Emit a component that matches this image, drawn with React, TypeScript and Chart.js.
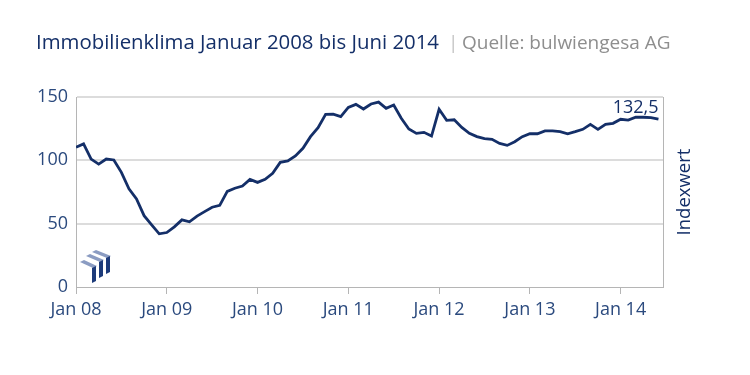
import React, { useEffect, useRef } from "react";
import { Chart, registerables } from "chart.js";

Chart.register(...registerables);

// ---------- data ----------
const titleMain = "Immobilienklima Januar 2008 bis Juni 2014";
const titleSeparator = "|";
const titleSource = "Quelle: bulwiengesa AG";
const axisTitle = "Indexwert";
const lastValueLabel = "132,5";

const xTickLabels = ["Jan 08", "Jan 09", "Jan 10", "Jan 11", "Jan 12", "Jan 13", "Jan 14"];
const yTickValues = [0, 50, 100, 150];

// monthly values, Jan 2008 .. Jun 2014
const indexValues = [
  110.3, 113, 101, 97, 101, 100.3, 90.5, 77.5, 69.5, 56.3, 49, 42,
  43, 47.5, 53, 51.5, 56, 59.5, 63, 64.5, 75.5, 78, 79.7, 85,
  82.6, 85, 89.7, 98.4, 99.5, 103.5, 109.5, 118.7, 125.8, 136.3, 136.5, 134.5,
  141.8, 144.2, 140.5, 144.5, 146, 141, 143.7, 133.2, 124.7, 121.3, 122.1, 119.2,
  140.3, 131.6, 132, 126, 121.3, 118.7, 117.1, 116.6, 113.4, 111.8, 114.7, 118.7,
  121, 121, 123.2, 123.2, 122.6, 121, 122.6, 124.5, 128.4, 124.5, 128.4, 129.2,
  132.4, 131.8, 134, 134, 133.7, 132.5,
];

const FONT = "'Open Sans', sans-serif";
const NAVY = "#142f68";
const TICK_COLOR = "#2b4a7e";

const decorPlugin = {
  id: "decor",
  afterDraw(chart: any) {
    const { ctx, chartArea } = chart;
    ctx.save();
    // right frame line
    ctx.strokeStyle = "#b5b5b5";
    ctx.lineWidth = 1;
    ctx.beginPath();
    ctx.moveTo(Math.round(chartArea.right) + 0.5, chartArea.top);
    ctx.lineTo(Math.round(chartArea.right) + 0.5, chartArea.bottom);
    ctx.stroke();

    // title
    ctx.textBaseline = "alphabetic";
    ctx.font = `20.4px ${FONT}`;
    ctx.fillStyle = NAVY;
    ctx.textAlign = "left";
    ctx.fillText(titleMain, 36, 49);
    const w = ctx.measureText(titleMain).width;
    ctx.font = `19px ${FONT}`;
    ctx.fillStyle = "#c4c4c4";
    ctx.fillText(titleSeparator, 36 + w + 9, 49);
    ctx.fillStyle = "#8e8e8e";
    ctx.fillText(titleSource, 36 + w + 23, 49);

    // last value label
    const meta = chart.getDatasetMeta(0);
    const last = meta.data[meta.data.length - 1];
    ctx.font = `18px ${FONT}`;
    ctx.fillStyle = NAVY;
    ctx.textAlign = "right";
    ctx.fillText(lastValueLabel, last.x, last.y - 6);

    // right axis title
    ctx.save();
    ctx.translate(690, (chartArea.top + chartArea.bottom) / 2);
    ctx.rotate(-Math.PI / 2);
    ctx.textAlign = "center";
    ctx.font = `18.5px ${FONT}`;
    ctx.fillText(axisTitle, 0, 0);
    ctx.restore();

    // logo
    const lx = chartArea.left, ly = chartArea.bottom;
    const light = "#8b9cc2";
    const dark = "#1d3b7a";
    const shapes = [
      { x: 4, y: -25, w: 13, bh: 15 },
      { x: 10, y: -31, w: 14, bh: 16 },
      { x: 16, y: -35, w: 15, bh: 16 },
    ];
    for (const s of shapes) {
      ctx.fillStyle = light;
      ctx.beginPath();
      ctx.moveTo(lx + s.x, ly + s.y);
      ctx.lineTo(lx + s.x + 4, ly + s.y - 2);
      ctx.lineTo(lx + s.x + s.w + 4, ly + s.y + 4);
      ctx.lineTo(lx + s.x + s.w, ly + s.y + 6);
      ctx.closePath();
      ctx.fill();
      ctx.fillStyle = dark;
      ctx.beginPath();
      ctx.moveTo(lx + s.x + s.w - 1, ly + s.y + 6);
      ctx.lineTo(lx + s.x + s.w + 3, ly + s.y + 4);
      ctx.lineTo(lx + s.x + s.w + 3, ly + s.y + 4 + s.bh);
      ctx.lineTo(lx + s.x + s.w - 1, ly + s.y + 6 + s.bh);
      ctx.closePath();
      ctx.fill();
    }
    ctx.restore();
  },
};

export default function App() {
  const ref = useRef<HTMLCanvasElement | null>(null);

  useEffect(() => {
    if (!ref.current) return;
    const chart = new Chart(ref.current, {
      type: "line",
      data: {
        datasets: [
          {
            label: axisTitle,
            data: indexValues.map((v, i) => ({ x: i, y: v })),
            borderColor: NAVY,
            borderWidth: 2.8,
            pointRadius: 0,
            tension: 0,
            fill: false,
          },
        ],
      },
      options: {
        responsive: false,
        animation: false,
        layout: { padding: { left: 0, right: 87, top: 97, bottom: 30 } },
        plugins: {
          legend: { display: false },
          tooltip: { enabled: false },
          title: { display: false },
        },
        scales: {
          x: {
            type: "linear",
            min: 0,
            max: 77.6,
            afterBuildTicks: (scale: any) => {
              scale.ticks = xTickLabels.map((_, i) => ({ value: i * 12 }));
            },
            afterFit: (scale: any) => {
              scale.height = 375 - 287 - 30;
            },
            ticks: {
              autoSkip: false,
              maxRotation: 0,
              padding: 5,
              color: TICK_COLOR,
              font: { family: FONT, size: 18 },
              callback: (v: any) => xTickLabels[Math.round(Number(v) / 12)] ?? "",
            },
            grid: {
              drawOnChartArea: false,
              drawTicks: true,
              tickLength: 7,
              color: "#b5b5b5",
            },
            border: { display: true, color: "#b5b5b5", width: 1 },
          },
          y: {
            min: 0,
            max: 150,
            afterBuildTicks: (scale: any) => {
              scale.ticks = yTickValues.map((v) => ({ value: v }));
            },
            afterFit: (scale: any) => {
              scale.width = 76;
            },
            ticks: {
              padding: 8,
              color: TICK_COLOR,
              font: { family: FONT, size: 18 },
            },
            grid: {
              drawTicks: false,
              color: (c: any) => (c.tick && c.tick.value === 0 ? "rgba(0,0,0,0)" : "#dcdcdc"),
              lineWidth: 2,
            },
            border: { display: true, color: "#b5b5b5", width: 1 },
          },
        },
      },
      plugins: [decorPlugin],
    });
    return () => chart.destroy();
  }, []);

  return (
    <div style={{ position: "absolute", left: 0, top: 0, width: 750, height: 375, background: "#fff" }}>
      <canvas ref={ref} width={750} height={375} />
    </div>
  );
}
